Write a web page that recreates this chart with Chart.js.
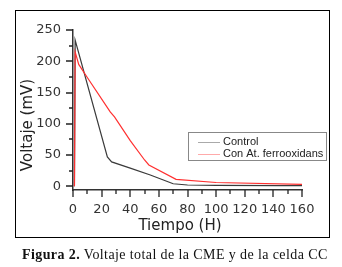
<!DOCTYPE html>
<html>
<head>
<meta charset="utf-8">
<script src="https://cdn.jsdelivr.net/npm/chart.js@4.4.1/dist/chart.umd.min.js"></script>
<style>
  body { margin: 0; background: #fff; }
  #wrap { position: relative; width: 342px; height: 267px; }
  #myChart { position: absolute; left: 0; top: 0; }
  #frame { position: absolute; left: 15px; top: 10px; width: 315px; height: 228px; box-sizing: border-box; border: 1px solid #000; pointer-events: none; }
  #caption { position: absolute; left: 22px; top: 247px; font: 14px/15px "Liberation Serif", "Times New Roman", serif; letter-spacing: 0.4px; color: #111; white-space: nowrap; }
</style>
</head>
<body>
<div id="wrap">
  <canvas id="myChart" width="342" height="267"></canvas>
  <div id="frame"></div>
  <div id="caption"><b>Figura 2.</b> Voltaje total de la CME y de la celda CC</div>
</div>
<script>
const controlTime = [1, 1.5, 24, 27, 40, 54, 70, 80, 100, 145, 160];
const controlVolt = [0, 234, 47, 39, 29, 18, 4, 2, 1.5, 1, 1];
const ferroTime = [1, 1.5, 4, 10, 26, 29, 40, 50, 53, 72, 100, 160];
const ferroVolt = [0, 215, 195, 174, 119, 111, 73, 42, 34, 11, 6, 3];
const xTicks = [0, 20, 40, 60, 80, 100, 120, 140, 160];
const yTicks = [0, 50, 100, 150, 200, 250];

const toPoints = (xs, ys) => xs.map((x, i) => ({ x: x, y: ys[i] }));

// ticks (major + minor), axis titles and boxed legend
const originDecor = {
  id: 'originDecor',
  afterDraw(chart) {
    const c = chart.ctx;
    const { x, y } = chart.scales;
    const area = chart.chartArea;
    c.save();
    c.strokeStyle = '#222';
    c.lineWidth = 1.3;
    c.beginPath();
    for (let v = 0; v <= 160; v += 10) {
      const px = Math.round(x.getPixelForValue(v));
      const len = v % 20 === 0 ? 7 : 4;
      c.moveTo(px, area.bottom);
      c.lineTo(px, area.bottom + len);
    }
    for (let v = 0; v <= 250; v += 25) {
      const py = Math.round(y.getPixelForValue(v));
      const len = v % 50 === 0 ? 7 : 4;
      c.moveTo(area.left, py);
      c.lineTo(area.left - len, py);
    }
    c.stroke();

    // axis titles
    c.fillStyle = '#222';
    c.font = '15px "DejaVu Sans"';
    c.textAlign = 'center';
    c.textBaseline = 'middle';
    c.fillText('Tiempo (H)', 180, 226);
    c.translate(28, 125);
    c.rotate(-Math.PI / 2);
    c.fillText('Voltaje (mV)', 0, 0);
    c.restore();

    // legend
    c.save();
    c.strokeStyle = '#888';
    c.lineWidth = 1;
    c.strokeRect(188.5, 132.5, 138, 28);
    c.font = '11px "Liberation Sans"';
    c.textAlign = 'left';
    c.textBaseline = 'middle';
    const legendColors = ['#aaa', '#ffaaaa'];
    chart.data.datasets.forEach((ds, i) => {
      const ly = 142 + i * 12;
      c.strokeStyle = legendColors[i];
      c.beginPath();
      c.moveTo(198, ly + 0.5);
      c.lineTo(220, ly + 0.5);
      c.stroke();
      c.fillStyle = '#222';
      c.fillText(ds.label, 223, ly);
    });
    c.restore();
  }
};

const ctx = document.getElementById('myChart');

new Chart(ctx, {
  type: 'scatter',
  plugins: [originDecor],
  data: {
    datasets: [
      {
        label: 'Control',
        data: toPoints(controlTime, controlVolt),
        showLine: true,
        borderColor: '#3a3a3a',
        borderWidth: 1.2,
        pointRadius: 0,
        tension: 0,
        order: 2,
      },
      {
        label: 'Con At. ferrooxidans',
        data: toPoints(ferroTime, ferroVolt),
        showLine: true,
        borderColor: '#ff3030',
        borderWidth: 1.2,
        pointRadius: 0,
        tension: 0,
        order: 1,
      },
    ],
  },
  options: {
    responsive: false,
    animation: false,
    layout: { padding: { left: 0, top: 30, right: 40, bottom: 0 } },
    plugins: {
      legend: { display: false },
      tooltip: { enabled: false },
    },
    scales: {
      x: {
        type: 'linear',
        min: 0,
        max: 160,
        afterBuildTicks: (scale) => { scale.ticks = xTicks.map(v => ({ value: v })); },
        afterFit: (scale) => { scale.height = 77; },
        grid: { display: false, drawTicks: false },
        border: { display: true, color: '#333', width: 1.5 },
        ticks: {
          color: '#333',
          padding: 12,
          maxRotation: 0,
          font: { family: 'DejaVu Sans', size: 13 },
        },
      },
      y: {
        min: -6,
        max: 250,
        afterBuildTicks: (scale) => { scale.ticks = yTicks.map(v => ({ value: v })); },
        afterFit: (scale) => { scale.width = 73; },
        grid: { display: false, drawTicks: false },
        border: { display: true, color: '#333', width: 1.5 },
        ticks: {
          color: '#333',
          padding: 12,
          font: { family: 'DejaVu Sans', size: 13 },
        },
      },
    },
  },
});
</script>
</body>
</html>
